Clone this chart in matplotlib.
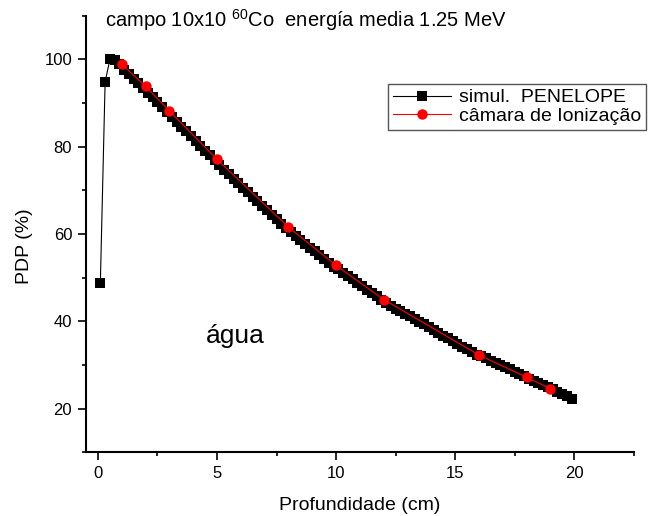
import matplotlib
matplotlib.use("Agg")
import matplotlib.pyplot as plt
from matplotlib.ticker import MultipleLocator

plt.rcParams["font.family"] = ["Liberation Sans", "DejaVu Sans"]
plt.rcParams["mathtext.fontset"] = "custom"
plt.rcParams["mathtext.rm"] = "Liberation Sans"
plt.rcParams["mathtext.it"] = "Liberation Sans"

# simul. PENELOPE (depth in cm, PDP in %)
pen_depth = [0.1, 0.3, 0.5, 0.7, 0.9, 1.1, 1.3, 1.5, 1.7, 1.9,
             2.1, 2.3, 2.5, 2.7, 2.9, 3.1, 3.3, 3.5, 3.7, 3.9,
             4.1, 4.3, 4.5, 4.7, 4.9, 5.1, 5.3, 5.5, 5.7, 5.9,
             6.1, 6.3, 6.5, 6.7, 6.9, 7.1, 7.3, 7.5, 7.7, 7.9,
             8.1, 8.3, 8.5, 8.7, 8.9, 9.1, 9.3, 9.5, 9.7, 9.9,
             10.1, 10.3, 10.5, 10.7, 10.9, 11.1, 11.3, 11.5, 11.7, 11.9,
             12.1, 12.3, 12.5, 12.7, 12.9, 13.1, 13.3, 13.5, 13.7, 13.9,
             14.1, 14.3, 14.5, 14.7, 14.9, 15.1, 15.3, 15.5, 15.7, 15.9,
             16.1, 16.3, 16.5, 16.7, 16.9, 17.1, 17.3, 17.5, 17.7, 17.9,
             18.1, 18.3, 18.5, 18.7, 18.9, 19.1, 19.3, 19.5, 19.7, 19.9]
pen_pdp = [48.8, 94.8, 100.0, 99.9, 99.0, 97.6, 96.6, 95.5, 94.5, 93.5,
           92.4, 91.3, 90.2, 89.1, 88.0, 86.8, 85.7, 84.6, 83.5, 82.4,
           81.4, 80.2, 79.1, 78.0, 76.9, 75.8, 74.7, 73.7, 72.7, 71.6,
           70.6, 69.6, 68.5, 67.5, 66.5, 65.5, 64.4, 63.4, 62.4, 61.3,
           60.4, 59.5, 58.6, 57.7, 56.8, 56.0, 55.1, 54.2, 53.3, 52.4,
           51.9, 51.1, 50.3, 49.6, 48.8, 48.0, 47.2, 46.5, 45.7, 44.9,
           44.2, 43.5, 42.9, 42.3, 41.6, 41.2, 40.6, 39.9, 39.3, 38.6,
           38.0, 37.4, 36.7, 36.1, 35.5, 34.9, 34.2, 33.6, 33.0, 32.4,
           32.0, 31.5, 31.0, 30.5, 30.0, 29.5, 29.0, 28.5, 28.0, 27.5,
           26.9, 26.4, 25.9, 25.4, 24.9, 24.4, 23.9, 23.4, 22.9, 22.3]

# câmara de Ionização
ion_depth = [1, 2, 3, 5, 8, 10, 12, 16, 18, 19]
ion_pdp = [98.9, 93.8, 88.2, 77.1, 61.6, 52.8, 45.0, 32.3, 27.2, 24.6]

fig = plt.figure(figsize=(6.57, 5.16), dpi=100)
ax = fig.add_axes([0.131, 0.1234, 0.8335, 0.8462])

ax.plot(pen_depth, pen_pdp, "-s", color="black", lw=0.8, markersize=7,
        markeredgewidth=0, label="simul.  PENELOPE", zorder=2)
ax.plot(ion_depth, ion_pdp, "-o", color="red", lw=0.8, markersize=7.5,
        markeredgewidth=0, label="câmara de Ionização", zorder=3)

ax.set_xlim(-0.5, 22.5)
ax.set_ylim(10, 110)
ax.xaxis.set_minor_locator(MultipleLocator(2.5))
ax.yaxis.set_minor_locator(MultipleLocator(10))
ax.set_xticks([0, 5, 10, 15, 20])
ax.set_yticks([20, 40, 60, 80, 100])

for side in ("top", "right"):
    ax.spines[side].set_visible(False)
for side in ("left", "bottom"):
    ax.spines[side].set_linewidth(1.5)
ax.tick_params(which="major", direction="out", length=6, width=1.2,
               labelsize=12, pad=4)
ax.tick_params(which="minor", direction="out", length=3, width=1.2)

ax.set_xlabel("Profundidade (cm)", fontsize=14, va="center")
ax.xaxis.set_label_coords(0.5, -0.121)
ax.set_ylabel("PDP (%)", fontsize=14, va="center")
ax.yaxis.set_label_coords(-0.113, 0.4725)

ax.annotate("água", xy=(206 / 657, 1 - 343 / 516), xycoords="figure fraction",
            fontsize=19, ha="left", va="baseline")

fig.text(105 / 657, 1 - 27 / 516,
         r"campo 10x10 $^{60}$Co  energía media 1.25 MeV",
         fontsize=14.5, ha="left", va="baseline")

leg = ax.legend(loc="upper left", bbox_to_anchor=(388 / 657, 1 - 84 / 516),
                bbox_transform=fig.transFigure, fontsize=14,
                fancybox=False, framealpha=1, edgecolor="#555555",
                handlelength=3.0, handletextpad=0.4, borderpad=0.25,
                labelspacing=0.05, borderaxespad=0)
leg.get_frame().set_linewidth(1.0)

fig.savefig("out.png", dpi=100)
